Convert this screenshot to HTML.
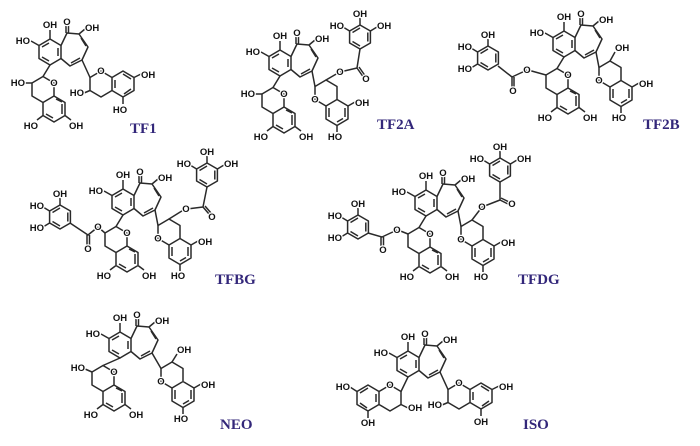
<!DOCTYPE html>
<html><head><meta charset="utf-8"><style>
html,body{margin:0;padding:0;background:#fff;}
svg{display:block;}
text{font-family:"Liberation Sans",sans-serif;font-weight:bold;font-size:9.5px;fill:#111;paint-order:stroke;stroke:#fff;stroke-width:2.5px;stroke-linejoin:round;}
text.lab{font-family:"Liberation Serif",serif;font-size:15px;fill:#33277a;stroke:none;}
path{fill:none;stroke:#2a2a2a;stroke-width:1.5;stroke-linejoin:round;}
</style></head><body>
<svg width="700" height="446" viewBox="0 0 700 446" xmlns="http://www.w3.org/2000/svg">
<defs>
<g id="bt"><path d="M50,39 L61,45.5 L61,58.5 L50,65 L39,58.5 L39,45.5Z M42,47 L49,43 M42,57 L49,61 M58,48 L58,56 M61,45.5 L67,33 L79,34 L88,47 L82,60 L70,66 L61,58.5 M81,38 L86,46 M71,63 L80,58 M66,33 L66,25 M68.5,33 L68.5,25 M39,45.5 L31,41 M50,39 L50,30 M79,34 L85,29"/></g>
<g id="cd"><path d="M54,83 L43,76.5 L32,83 L32,96 L43,102.5 L54,96 Z M54,96 L65,102.5 L65,115.5 L54,122 L43,115.5 L43,102.5 M62,104 L62,114 M46,114 L53,118 M56,99 L62,102 M43,115.5 L37,120 M65,115.5 L71,120"/></g>
<g id="ch"><path d="M101,71 L90,77.5 L90,90.5 L101,97 L112,90.5 L112,77.5 Z M112,77.5 L123,71 L134,77.5 L134,90.5 L123,97 L112,90.5 M115,80 L115,88 M123,74 L131,79 M124,94 L131,89 M134,77.5 L141,74 M123,97 L123,104"/></g>
<g id="dr"><path d="M85,75.5 L96,69 L107,75.5 L107,88.5 L96,95 L85,88.5 Z M107,88.5 L118,95 L118,108 L107,114.5 L96,108 L96,95 M99,97 L99,106 M115,97 L115,106 M107,111 L113,107.5 M118,95 L125,91 M107,114.5 L107,121"/></g>
<g id="hl"><path d="M32,73 L43,79.5 L43,92.5 L32,99 L21,92.5 L21,79.5 Z M21,79.5 L10,73 L-1,79.5 L-1,92.5 L10,99 L21,92.5 M18,82 L18,90 M10,76 L2,81 M9,96 L2,91 M-1,79.5 L-8,75 M10,99 L10,106"/></g>
<g id="gh"><path d="M0,-12 L10.4,-6 L10.4,6 L0,12 L-10.4,6 L-10.4,-6 Z M7.8,-4.5 L7.8,4.5 M0,9 L-7.5,4.5 M-7.5,-4.5 L0,-9"/></g>
</defs>

<!-- TF1 -->
<g>
<use href="#bt"/><use href="#cd"/><use href="#ch"/>
<path d="M50,65 L43,76.5 M82,60 L90,77.5 M32,83 L25,83 M90,90.5 L84,93"/>
<text x="30" y="44" text-anchor="end">HO</text><text x="50" y="28" text-anchor="middle">OH</text><text x="67" y="25" text-anchor="middle">O</text><text x="85" y="31">OH</text>
<text x="54" y="86" text-anchor="middle">O</text><text x="25" y="86" text-anchor="end">HO</text><text x="38" y="129" text-anchor="end">HO</text><text x="69" y="129">OH</text>
<text x="101" y="74" text-anchor="middle">O</text><text x="84" y="96" text-anchor="end">HO</text><text x="141" y="78">OH</text><text x="120" y="113" text-anchor="middle">HO</text>
<text class="lab" x="130" y="133">TF1</text>
</g>

<!-- TF2A -->
<g transform="translate(230,11)">
<use href="#bt"/><use href="#cd"/><use href="#dr"/>
<path d="M50,65 L43,76.5 M82,60 L85,75.5 M32,83 L25,83 M96,69 L108,62"/>
<text x="30" y="44" text-anchor="end">HO</text><text x="50" y="28" text-anchor="middle">OH</text><text x="67" y="25" text-anchor="middle">O</text><text x="85" y="31">OH</text>
<text x="54" y="86" text-anchor="middle">O</text><text x="25" y="86" text-anchor="end">HO</text><text x="38" y="129" text-anchor="end">HO</text><text x="69" y="129">OH</text>
<text x="85" y="91.5" text-anchor="middle">O</text><text x="125" y="95">OH</text><text x="105" y="129" text-anchor="middle">HO</text>
</g>
<path d="M340,72 L357,68 L360,49 M357,68 L364,78 M359,67 L366,77"/>
<text x="340" y="75" text-anchor="middle">O</text><text x="366" y="82" text-anchor="middle">O</text>
<g transform="translate(360,37)"><use href="#gh"/><path d="M-10.4,-6 L-17,-10 M0,-12 L0,-19 M10.4,-6 L17,-10"/>
<text x="-16" y="-8" text-anchor="end">HO</text><text x="0" y="-20" text-anchor="middle">OH</text><text x="17" y="-8">OH</text></g>
<text class="lab" x="377" y="129">TF2A</text>

<!-- TF2B -->
<g transform="translate(514,-8)">
<use href="#bt"/><use href="#cd"/><use href="#dr"/>
<path d="M50,65 L43,76.5 M82,60 L85,75.5 M32,83 L14,78 M96,69 L101,60"/>
<text x="30" y="44" text-anchor="end">HO</text><text x="50" y="28" text-anchor="middle">OH</text><text x="67" y="25" text-anchor="middle">O</text><text x="85" y="31">OH</text>
<text x="54" y="86" text-anchor="middle">O</text><text x="38" y="129" text-anchor="end">HO</text><text x="69" y="129">OH</text>
<text x="85" y="91.5" text-anchor="middle">O</text><text x="101" y="59">OH</text><text x="125" y="95">OH</text><text x="105" y="129" text-anchor="middle">HO</text>
</g>
<path d="M527,70 L512,77 L498,66 M512,77 L512,87 M514,77 L514,87"/>
<text x="527" y="73" text-anchor="middle">O</text><text x="513" y="94" text-anchor="middle">O</text>
<g transform="translate(488,58)"><use href="#gh"/><path d="M0,-12 L0,-19 M-10.4,-6 L-17,-10 M-10.4,6 L-17,10"/>
<text x="0" y="-20" text-anchor="middle">OH</text><text x="-16" y="-8" text-anchor="end">HO</text><text x="-16" y="14" text-anchor="end">HO</text></g>
<text class="lab" x="643" y="129">TF2B</text>

<!-- TFBG -->
<g transform="translate(73,150)">
<use href="#bt"/><use href="#cd"/><use href="#dr"/>
<path d="M50,65 L43,76.5 M82,60 L85,75.5 M32,83 L25,77 M96,69 L112,59"/>
<text x="30" y="44" text-anchor="end">HO</text><text x="50" y="28" text-anchor="middle">OH</text><text x="67" y="25" text-anchor="middle">O</text><text x="85" y="31">OH</text>
<text x="54" y="86" text-anchor="middle">O</text><text x="38" y="129" text-anchor="end">HO</text><text x="69" y="129">OH</text>
<text x="85" y="91.5" text-anchor="middle">O</text><text x="125" y="95">OH</text><text x="105" y="129" text-anchor="middle">HO</text>
</g>
<path d="M98,227 L88,235 L70,223 M87,235 L87,245 M89.5,235 L89.5,245"/>
<text x="98" y="230" text-anchor="middle">O</text><text x="88" y="252" text-anchor="middle">O</text>
<g transform="translate(60,217)"><use href="#gh"/><path d="M0,-12 L0,-19 M-10.4,-6 L-17,-10 M-10.4,6 L-17,10"/>
<text x="0" y="-20" text-anchor="middle">OH</text><text x="-16" y="-8" text-anchor="end">HO</text><text x="-16" y="14" text-anchor="end">HO</text></g>
<path d="M187,209 L203,207 L207,187 M203,207 L209,214 M205,206 L211,213"/>
<text x="186" y="212" text-anchor="middle">O</text><text x="212" y="220" text-anchor="middle">O</text>
<g transform="translate(207,175)"><use href="#gh"/><path d="M-10.4,-6 L-17,-10 M0,-12 L0,-19 M10.4,-6 L17,-10"/>
<text x="-16" y="-8" text-anchor="end">HO</text><text x="0" y="-20" text-anchor="middle">OH</text><text x="17" y="-8">OH</text></g>
<text class="lab" x="215" y="284">TFBG</text>

<!-- TFDG -->
<g transform="translate(376,151)">
<use href="#bt"/><use href="#cd"/><use href="#dr"/>
<path d="M50,65 L43,76.5 M82,60 L85,75.5 M32,83 L22,79 M96,69 L106,56"/>
<text x="30" y="44" text-anchor="end">HO</text><text x="50" y="28" text-anchor="middle">OH</text><text x="67" y="25" text-anchor="middle">O</text><text x="85" y="31">OH</text>
<text x="54" y="86" text-anchor="middle">O</text><text x="38" y="129" text-anchor="end">HO</text><text x="69" y="129">OH</text>
<text x="85" y="91.5" text-anchor="middle">O</text><text x="125" y="95">OH</text><text x="105" y="129" text-anchor="middle">HO</text>
</g>
<path d="M397,230 L382,237 L368,233 M381,237 L381,246 M383.5,237 L383.5,246"/>
<text x="397" y="233" text-anchor="middle">O</text><text x="383" y="253" text-anchor="middle">O</text>
<g transform="translate(358,227)"><use href="#gh"/><path d="M0,-12 L0,-19 M-10.4,-6 L-17,-10 M-10.4,6 L-17,10"/>
<text x="0" y="-20" text-anchor="middle">OH</text><text x="-16" y="-8" text-anchor="end">HO</text><text x="-16" y="14" text-anchor="end">HO</text></g>
<path d="M482,207 L500,200 L500,182 M500,200 L508,204 M501,198 L509,202"/>
<text x="482" y="210" text-anchor="middle">O</text><text x="512" y="207" text-anchor="middle">O</text>
<g transform="translate(500,170)"><use href="#gh"/><path d="M-10.4,-6 L-17,-10 M0,-12 L0,-19 M10.4,-6 L17,-10"/>
<text x="-16" y="-8" text-anchor="end">HO</text><text x="0" y="-20" text-anchor="middle">OH</text><text x="17" y="-8">OH</text></g>
<text class="lab" x="518" y="284">TFDG</text>

<!-- NEO -->
<g transform="translate(70,293)">
<use href="#bt"/>
<g transform="translate(-10,-4)"><use href="#cd"/><path d="M32,83 L25,80"/>
<text x="54" y="86" text-anchor="middle">O</text><text x="25" y="82" text-anchor="end">HO</text><text x="38" y="129" text-anchor="end">HO</text><text x="69" y="129">OH</text></g>
<g transform="translate(6,0)"><use href="#dr"/><path d="M96,69 L101,61"/>
<text x="85" y="91.5" text-anchor="middle">O</text><text x="101" y="60">OH</text><text x="125" y="95">OH</text><text x="105" y="129" text-anchor="middle">HO</text></g>
<path d="M50,65 L33,72.5 M82,60 L91,75.5"/>
<text x="30" y="44" text-anchor="end">HO</text><text x="50" y="28" text-anchor="middle">OH</text><text x="67" y="25" text-anchor="middle">O</text><text x="85" y="31">OH</text>
</g>
<text class="lab" x="220" y="429">NEO</text>

<!-- ISO -->
<g transform="translate(358,312)">
<use href="#bt"/><use href="#hl"/><use href="#ch"/>
<path d="M50,65 L43,79.5 M82,60 L90,77.5 M43,92.5 L50,96 M90,90.5 L84,93"/>
<text x="30" y="44" text-anchor="end">HO</text><text x="50" y="28" text-anchor="middle">OH</text><text x="67" y="25" text-anchor="middle">O</text><text x="85" y="31">OH</text>
<text x="32" y="76" text-anchor="middle">O</text><text x="50" y="99">OH</text><text x="-8" y="78" text-anchor="end">HO</text><text x="10" y="114" text-anchor="middle">OH</text>
<text x="101" y="74" text-anchor="middle">O</text><text x="84" y="96" text-anchor="end">HO</text><text x="141" y="78">OH</text><text x="123" y="113" text-anchor="middle">OH</text>
</g>
<text class="lab" x="523" y="429">ISO</text>
</svg>
</body></html>
